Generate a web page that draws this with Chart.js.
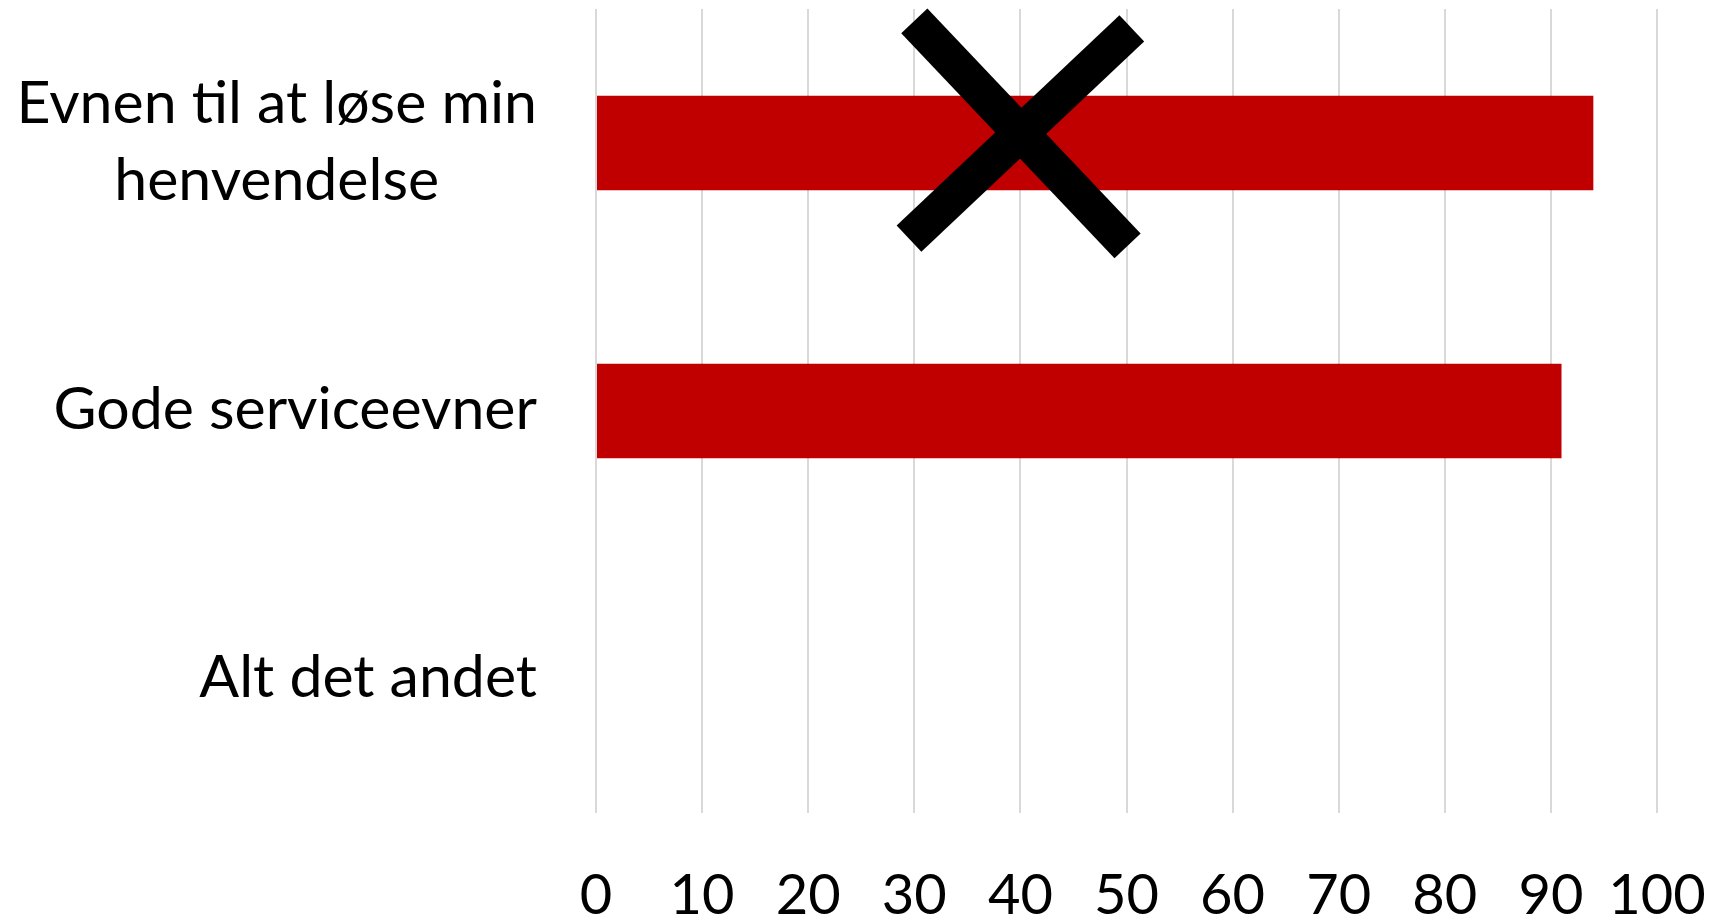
<!DOCTYPE html>
<html>
<head>
<meta charset="utf-8">
<title>Evner</title>
<script src="https://cdn.jsdelivr.net/npm/chart.js@4/dist/chart.umd.min.js"></script>
<style>
  html, body { margin: 0; padding: 0; background: #ffffff; }
  #wrap { width: 1723px; height: 920px; }
</style>
</head>
<body>
<div id="wrap"><canvas id="chart" width="1723" height="920"></canvas></div>
<script>
// Categories (multi-line labels are arrays of lines)
const categories = [
  ["Evnen til at løse min", "henvendelse"],
  "Gode serviceevner",
  "Alt det andet"
];
// Share of respondents, in percent
const values = [94, 91, 0];
// Value axis range and step
const axisMin = 0;
const axisMax = 100;
const axisStep = 10;
// Cross-out mark over the first category: two strokes, given in
// value units (x) and category index units (y)
const crossStrokeA = [{ x: 30.0, y: -0.456 }, { x: 50.1, y: 0.384 }];
const crossStrokeB = [{ x: 50.5, y: -0.428 }, { x: 29.5, y: 0.357 }];

const FONT = "Lato";
const LABEL_SIZE = 59;
const TICK_SIZE = 56;

// Category labels: lines centred on each other, block right-aligned to the axis gap
const categoryLabels = {
  id: "categoryLabels",
  afterDraw(chart) {
    const { ctx } = chart;
    const yScale = chart.scales.y;
    const rightEdge = chart.chartArea.left - 59;
    const lineGap = 77;
    ctx.save();
    ctx.font = LABEL_SIZE + "px " + FONT;
    ctx.fillStyle = "#000000";
    ctx.textAlign = "center";
    ctx.textBaseline = "middle";
    categories.forEach((label, i) => {
      const lines = Array.isArray(label) ? label : [label];
      const maxW = Math.max(...lines.map(l => ctx.measureText(l).width));
      const cx = rightEdge - maxW / 2;
      const cy = yScale.getPixelForTick(i) - 1;
      const y0 = cy - (lines.length - 1) * lineGap / 2;
      lines.forEach((line, k) => ctx.fillText(line, cx, y0 + k * lineGap));
    });
    ctx.restore();
  }
};

// Cross-out strokes drawn on top of the bars
const crossMark = {
  id: "crossMark",
  afterDatasetsDraw(chart) {
    const { ctx } = chart;
    const xs = chart.scales.x, ys = chart.scales.y;
    ctx.save();
    ctx.strokeStyle = "#000000";
    ctx.lineWidth = 36;
    ctx.lineCap = "butt";
    [crossStrokeA, crossStrokeB].forEach(stroke => {
      ctx.beginPath();
      stroke.forEach((p, k) => {
        const px = xs.getPixelForValue(p.x);
        const py = ys.getPixelForValue(p.y);
        if (k === 0) ctx.moveTo(px, py); else ctx.lineTo(px, py);
      });
      ctx.stroke();
    });
    ctx.restore();
  }
};

function draw() {
  new Chart(document.getElementById("chart"), {
    type: "bar",
    data: {
      labels: categories,
      datasets: [{
        data: values,
        backgroundColor: "#C00000",
        borderWidth: 0,
        categoryPercentage: 1.0,
        barPercentage: 0.353
      }]
    },
    options: {
      indexAxis: "y",
      responsive: false,
      animation: false,
      devicePixelRatio: 1,
      layout: { padding: { top: 9, right: 66, left: 0, bottom: 0 } },
      plugins: { legend: { display: false }, tooltip: { enabled: false } },
      scales: {
        x: {
          min: axisMin,
          max: axisMax,
          ticks: {
            stepSize: axisStep,
            color: "#000000",
            font: { family: FONT, size: TICK_SIZE },
            padding: 49,
            maxRotation: 0
          },
          grid: { color: "#d9d9d9", lineWidth: 2, drawTicks: false },
          border: { display: false },
          afterFit(scale) {
            scale.height = 107;
            scale.paddingLeft = 0;
            scale.paddingRight = 0;
          }
        },
        y: {
          ticks: { display: false },
          grid: { display: false },
          border: { display: false },
          afterFit(scale) { scale.width = 596; }
        }
      }
    },
    plugins: [crossMark, categoryLabels]
  });
}

if (document.fonts && document.fonts.load) {
  Promise.all([
    document.fonts.load(LABEL_SIZE + "px " + FONT),
    document.fonts.load(TICK_SIZE + "px " + FONT)
  ]).then(draw, draw);
} else {
  draw();
}
</script>
</body>
</html>
